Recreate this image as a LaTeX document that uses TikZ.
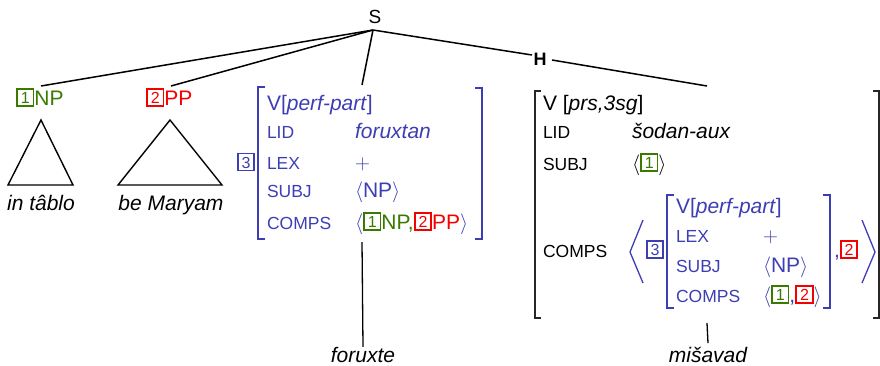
\documentclass[tikz,border=0pt]{standalone}
\usepackage{fontspec}
\setmainfont{Liberation Sans}
\definecolor{avmblue}{RGB}{62,62,180}
\definecolor{npgreen}{RGB}{58,122,0}
\definecolor{ppred}{RGB}{245,0,0}
\newcommand\mainsz{\fontsize{21}{24}\selectfont}
\newcommand\lblsz{\fontsize{17.5}{20}\selectfont}
\newcommand\tg[2]{{\setlength\fboxsep{1.4pt}\setlength\fboxrule{1.8pt}\raisebox{1.6pt}{\fcolorbox{#1}{white}{\fontsize{16}{16}\selectfont\color{#1}\rule{0pt}{12.4pt}\makebox[12pt]{#2}}}}}
\begin{document}
\begin{tikzpicture}[x=1pt,y=-1pt,
  tw/.style={anchor=base west,inner sep=0,outer sep=0,font=\mainsz},
  lb/.style={anchor=base west,inner sep=0,outer sep=0,font=\lblsz},
  word/.style={anchor=base,inner sep=0,outer sep=0,font=\mainsz\itshape},
  tree/.style={line width=1.5pt,black},
  tri/.style={line width=1.4pt,black,line join=miter},
  brk/.style={avmblue,line width=1.3pt},
  rbrk/.style={black!85,line width=1.2pt}]
\useasboundingbox (0,0) rectangle (880,365);

% top of tree
\node[inner sep=0,font=\fontsize{19}{20}\selectfont] (S) at (375,17) {S};
\coordinate (Sb) at (373,30);
\node[inner sep=0,font=\bfseries\fontsize{18}{20}\selectfont] (H) at (540,59) {H};
\coordinate (Hin) at (532,55);
\coordinate (Hout) at (552,60);

% left daughters
\node[tw,text=npgreen] (NP) at (16,105) {\tg{npgreen}{1}NP};
\coordinate (NPt) at (41,86);
\node[tw,text=ppred] (PP) at (146,105) {\tg{ppred}{2}PP};
\coordinate (PPt) at (171,86);
\draw[tri] (41,120) -- (8,185) -- (73,185) -- cycle;
\draw[tri] (170,120) -- (118,185) -- (222,185) -- cycle;
\node[word] (w1) at (41,210) {in tâblo};
\node[word] (w2) at (171,210) {be Maryam};

% middle AVM
\coordinate (Mt) at (362,85);
\draw[brk] (265,87) -- (258,87) -- (258,239) -- (265,239);
\draw[brk] (475,88) -- (482,88) -- (482,239) -- (475,239);
\node[inner sep=0] (m3) at (246,162) {\tg{avmblue}{3}};
\node[tw,text=avmblue] (mV) at (267,110) {V[\textit{perf-part}]};
\node[lb,text=avmblue] (mLIDl) at (267,138) {LID};
\node[tw,text=avmblue] (mLIDv) at (355,138) {\textit{foruxtan}};
\node[lb,text=avmblue] (mLEXl) at (267,169) {LEX};
\node[tw,text=avmblue] (mLEXv) at (355,169) {$+$};
\node[lb,text=avmblue] (mSUBJl) at (267,197) {SUBJ};
\node[tw,text=avmblue] (mSUBJv) at (355,197) {$\langle$NP$\rangle$};
\node[lb,text=avmblue] (mCOMPSl) at (267,229) {COMPS};
\node[tw,text=avmblue] (mCOMPSv) at (355,229) {$\langle$\tg{npgreen}{1}\textcolor{npgreen}{NP,}\tg{ppred}{2}\textcolor{ppred}{PP}$\rangle$};
\coordinate (Mb) at (362,242);
\node[word] (fx) at (363,362) {foruxte};

% right AVM
\coordinate (Rt) at (707,86);
\draw[rbrk] (541,91) -- (535,91) -- (535,318) -- (541,318);
\draw[rbrk] (873,91) -- (879,91) -- (879,318) -- (873,318);
\node[tw] (rV) at (543,110) {V [\textit{prs,3sg}]};
\node[lb] (rLIDl) at (543,138) {LID};
\node[tw] (rLIDv) at (632,138) {\textit{šodan-aux}};
\node[lb] (rSUBJl) at (543,170) {SUBJ};
\node[tw] (rSUBJv) at (632,170) {$\langle$\tg{npgreen}{1}$\rangle$};
\node[lb] (rCOMPSl) at (543,257) {COMPS};
\draw[brk] (643,220) -- (630,252) -- (643,283);
\draw[brk] (862,220) -- (875,252) -- (862,283);
\node[inner sep=0] (r3) at (655,249.5) {\tg{avmblue}{3}};
% inner AVM
\draw[brk] (674,195) -- (667,195) -- (667,308) -- (674,308);
\draw[brk] (823,195) -- (830,195) -- (830,308) -- (823,308);
\node[tw,text=avmblue] (iV) at (676,213) {V[\textit{perf-part}]};
\node[lb,text=avmblue] (iLEXl) at (676,242) {LEX};
\node[tw,text=avmblue] (iLEXv) at (763,242) {$+$};
\node[lb,text=avmblue] (iSUBJl) at (676,272) {SUBJ};
\node[tw,text=avmblue] (iSUBJv) at (763,272) {$\langle$NP$\rangle$};
\node[lb,text=avmblue] (iCOMPSl) at (676,302) {COMPS};
\node[tw,text=avmblue] (iCOMPSv) at (763,302) {$\langle$\tg{npgreen}{1},\tg{ppred}{2}$\rangle$};
\node[tw,text=avmblue] (r2) at (834,257) {,\tg{ppred}{2}};
\coordinate (Rb) at (707,323);
\node[word,outer sep=3.5pt] (ms) at (708,362) {mišavad};

% connectors
\draw[tree] (Sb) -- (NPt);
\draw[tree] (Sb) -- (PPt);
\draw[tree] (Sb) -- (Mt);
\draw[tree] (Sb) -- (Hin);
\draw[tree] (Hout) -- (Rt);
\draw[line width=1.3pt] (Mb) -- (fx.north);
\draw[line width=1.3pt] (Rb) -- (ms.north);
\end{tikzpicture}
\end{document}
